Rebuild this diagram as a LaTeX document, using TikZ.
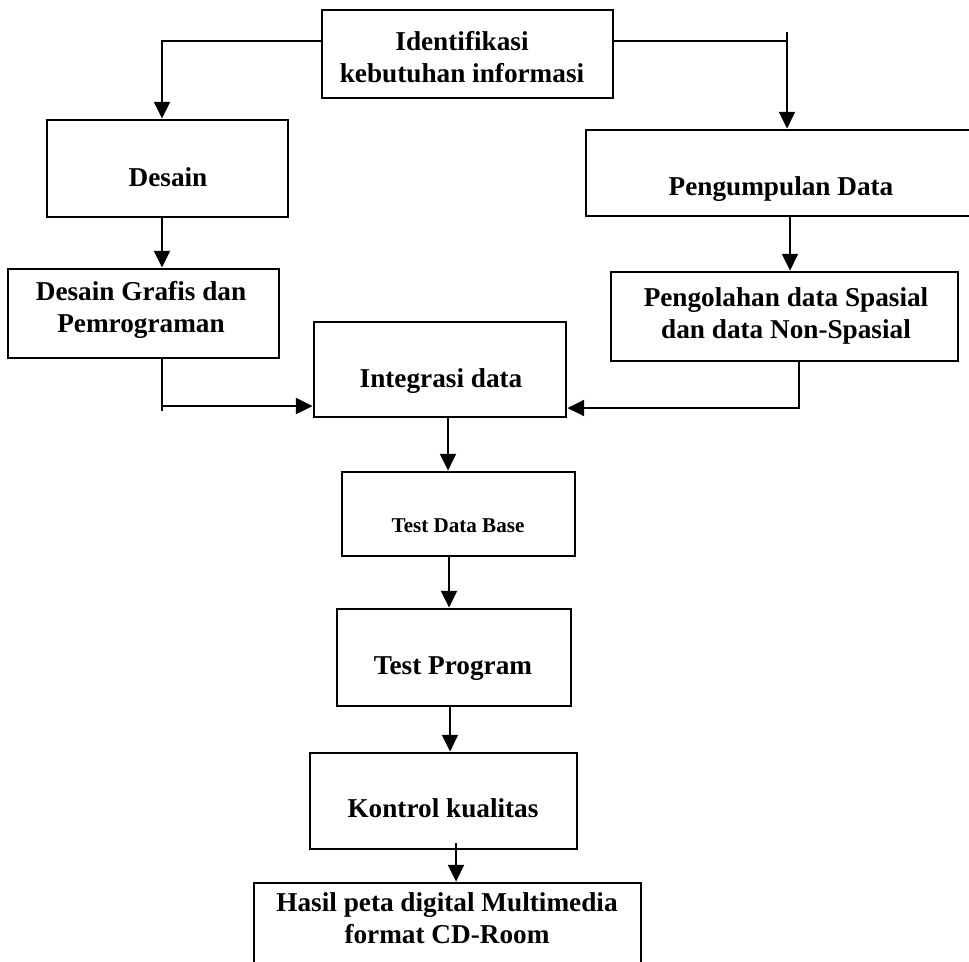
\documentclass[tikz,border=0pt]{standalone}
\usepackage{fontspec}
\setmainfont{Liberation Serif}
\usetikzlibrary{arrows.meta}

\tikzset{
  box/.style={draw, rectangle, line width=1.6pt, inner sep=0pt},
  lbl/.style={inner sep=0pt, align=center, font=\fontsize{15.5}{18.5}\selectfont\bfseries},
  one/.style={lbl, text height=0.9em, text depth=0.22em},
  small/.style={one, font=\fontsize{12}{14}\selectfont\bfseries},
  conn/.style={line width=1.45pt},
  arr/.style={conn, -{Triangle[length=9.5pt,width=9pt]}},
}

\begin{document}
\begin{tikzpicture}[x=0.02cm, y=-0.02cm]
\useasboundingbox (0,0) rectangle (969,961);
\clip (0,0) rectangle (969,961);

% boxes
\node[box, minimum width=5.82cm, minimum height=1.76cm] (id) at (467.5,54) {};
\node[box, minimum width=4.82cm, minimum height=1.94cm] (de) at (167.5,168.5) {};
\node[box, minimum width=7.88cm, minimum height=1.72cm] (pd) at (783,173) {};
\node[box, minimum width=5.42cm, minimum height=1.78cm] (dg) at (143.5,313.5) {};
\node[box, minimum width=6.94cm, minimum height=1.78cm] (po) at (784.5,316.5) {};
\node[box, minimum width=5.04cm, minimum height=1.90cm] (int) at (440,369.5) {};
\node[box, minimum width=4.66cm, minimum height=1.68cm] (tdb) at (458.5,514) {};
\node[box, minimum width=4.68cm, minimum height=1.94cm] (tp) at (454,657.5) {};
\node[box, minimum width=5.34cm, minimum height=1.92cm] (ko) at (443.5,801) {};
\node[box, minimum width=7.74cm, minimum height=2.14cm] (ha) at (447.5,936.5) {};

% labels
\node[lbl] (tid) at (462,57) {Identifikasi\\kebutuhan informasi};
\node[one] (tde) at (168,181) {Desain};
\node[one] (tpd) at (781,190) {Pengumpulan Data};
\node[lbl] (tdg) at (141,310) {Desain Grafis dan\\Pemrograman};
\node[lbl] (tpo) at (786,316) {Pengolahan data Spasial\\dan data Non-Spasial};
\node[one] (tint) at (441,382) {Integrasi data};
\node[small] (ttdb) at (458,527) {Test Data Base};
\node[one] (ttp) at (453,669) {Test Program};
\node[one] (tko) at (443,812) {Kontrol kualitas};
\node[lbl] (tha) at (447,918) {Hasil peta digital Multimedia\\format CD-Room};

% bend and guide points of the connectors
\coordinate (j1) at (162,41);
\coordinate (j2) at (787,41);
\coordinate (j2t) at (787,32);
\coordinate (j4) at (790,0);
\coordinate (j5) at (162,406);
\coordinate (j5b) at (162,411);
\coordinate (j6) at (799,408);
\coordinate (x7) at (448,0);
\coordinate (x8) at (449,0);
\coordinate (x9) at (450,0);
\coordinate (k10) at (456,843);

% connectors
\draw[arr] (id.west |- j1) -- (j1) -- (j1 |- de.north);
\draw[conn] (id.east |- j2) -- (j2);
\draw[arr] (j2t) -- (j2t |- pd.north);
\draw[arr] (de.south -| j1) -- (dg.north -| j1);
\draw[arr] (pd.south -| j4) -- (po.north -| j4);
\draw[conn] (dg.south -| j5) -- (j5b);
\draw[arr] (j5) -- (int.west |- j5);
\draw[arr] (po.south -| j6) -- (j6) -- (int.east |- j6);
\draw[arr] (int.south -| x7) -- (tdb.north -| x7);
\draw[arr] (tdb.south -| x8) -- (tp.north -| x8);
\draw[arr] (tp.south -| x9) -- (ko.north -| x9);
\draw[arr] (k10) -- (k10 |- ha.north);
\end{tikzpicture}
\end{document}
